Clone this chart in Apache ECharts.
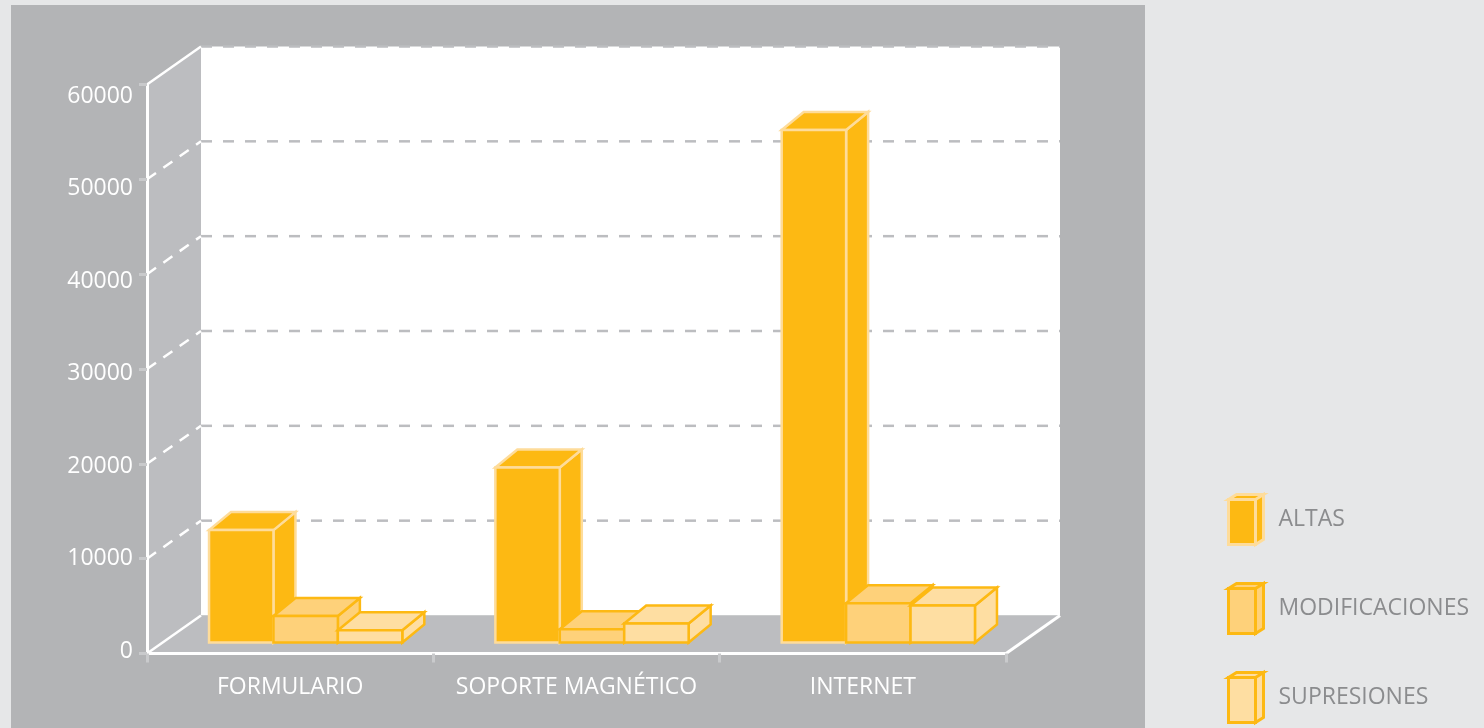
<!DOCTYPE html>
<html>
<head>
<meta charset="utf-8">
<script src="https://cdn.jsdelivr.net/npm/echarts@6/dist/echarts.min.js"></script>
<style>
  html, body { margin: 0; padding: 0; background: #e6e7e8; }
  #panel { position: absolute; left: 11px; top: 5px; width: 1134px; height: 723px; background: #b3b4b6; }
  #chart { position: absolute; left: 0; top: 0; width: 1484px; height: 728px; }
</style>
</head>
<body>
<div id="panel"></div>
<div id="chart"></div>
<script>
// ---- data ----
const categories = ['FORMULARIO', 'SOPORTE MAGNÉTICO', 'INTERNET'];
const seriesNames = ['ALTAS', 'MODIFICACIONES', 'SUPRESIONES'];
const altas = [11850, 18450, 54050];
const modificaciones = [2800, 1400, 4150];
const supresiones = [1300, 2000, 3900];
const yTicks = [0, 10000, 20000, 30000, 40000, 50000, 60000];

// ---- style ----
const FONT = 'Open Sans';
const WALL_DX = 54, WALL_DY = -38;          // depth of the chart box
const BAR_OFF_DX = 15.5, BAR_OFF_DY = -11;  // front plane of bars inside the box
const BAR_DX = 22, BAR_DY = -18;            // depth of each bar
const BAR_FRAC = 0.225;                      // bar width / category width
const fills = ['#fdb913', '#fed17a', '#fedea2'];
const strokes = ['#fedc9a', '#fdb913', '#fdb913'];
const WALL_GRAY = '#bcbdc0';

const yMin = yTicks[0], yMax = yTicks[yTicks.length - 1], yStep = yTicks[1] - yTicks[0];

function wallsRender(params, api) {
  const cs = params.coordSys;
  const L = cs.x, R = cs.x + cs.width;
  const yOf = v => api.coord([0, v])[1];
  const yT = yOf(yMax), yB = yOf(yMin);
  const ch = [];
  ch.push({ type: 'rect', shape: { x: L + WALL_DX, y: yT + WALL_DY, width: R - L, height: yB - yT }, style: { fill: '#ffffff' } });
  ch.push({ type: 'polygon', shape: { points: [[L, yT], [L + WALL_DX, yT + WALL_DY], [L + WALL_DX, yB + WALL_DY], [L, yB]] }, style: { fill: WALL_GRAY } });
  ch.push({ type: 'polygon', shape: { points: [[L, yB], [L + WALL_DX, yB + WALL_DY], [R + WALL_DX, yB + WALL_DY], [R, yB]] }, style: { fill: WALL_GRAY } });
  yTicks.forEach(v => {
    const y = yOf(v);
    if (v > yMin) {
      ch.push({ type: 'line', shape: { x1: L + WALL_DX, y1: y + WALL_DY, x2: R + WALL_DX, y2: y + WALL_DY },
        style: { stroke: WALL_GRAY, lineWidth: 2.5, lineDash: [11, 11] } });
    }
    const solid = (v === yMin || v === yMax);
    ch.push({ type: 'line', shape: { x1: L, y1: y, x2: L + WALL_DX, y2: y + WALL_DY },
      style: { stroke: '#ffffff', lineWidth: 2.5, lineDash: solid ? null : [11, 9] } });
  });
  ch.push({ type: 'line', shape: { x1: R, y1: yB, x2: R + WALL_DX, y2: yB + WALL_DY }, style: { stroke: '#ffffff', lineWidth: 3 } });
  return { type: 'group', children: ch };
}

function makeBarRender(si) {
  return function (params, api) {
    const cat = api.value(0), v = api.value(1);
    const base = api.coord([cat, 0]);
    const top = api.coord([cat, v]);
    const bw = api.size([1, 0])[0] * BAR_FRAC;
    const x0 = base[0] + BAR_OFF_DX + (si - 1) * bw - bw / 2;
    const x1 = x0 + bw;
    const yb = base[1] + BAR_OFF_DY, yt = top[1] + BAR_OFF_DY;
    const st = { fill: fills[si], stroke: strokes[si], lineWidth: 2.5, lineJoin: 'miter' };
    return {
      type: 'group',
      children: [
        { type: 'polygon', shape: { points: [[x1, yt], [x1 + BAR_DX, yt + BAR_DY], [x1 + BAR_DX, yb + BAR_DY], [x1, yb]] }, style: st },
        { type: 'polygon', shape: { points: [[x0, yt], [x0 + BAR_DX, yt + BAR_DY], [x1 + BAR_DX, yt + BAR_DY], [x1, yt]] }, style: st },
        { type: 'rect', shape: { x: x0, y: yt, width: bw, height: yb - yt }, style: st }
      ]
    };
  };
}

const seriesData = [altas, modificaciones, supresiones];
const legendIcon = 'path://M0,5 L27,5 L27,50 L0,50 Z M0,5 L8,0 L35,0 L27,5 Z M27,5 L35,0 L35,45 L27,50 Z';

const chart = echarts.init(document.getElementById('chart'), null, { renderer: 'canvas' });
chart.setOption({
  backgroundColor: 'transparent',
  animation: false,
  textStyle: { fontFamily: FONT },
  grid: [
    { left: 147, top: 84.5, width: 859, height: 569 },
    { left: 147, top: 96, width: 859, height: 555 }
  ],
  xAxis: [
    {
      type: 'category', data: categories, gridIndex: 0, z: 10,
      axisLine: { lineStyle: { color: '#ffffff', width: 3 } },
      axisTick: { show: true, length: 9, lineStyle: { color: '#c9cacc', width: 3 } },
      axisLabel: { color: '#ffffff', fontSize: 23, fontFamily: FONT, margin: 22, interval: 0 },
      splitLine: { show: false }
    },
    { type: 'category', data: categories, gridIndex: 1, show: false }
  ],
  yAxis: [
    {
      type: 'value', gridIndex: 0, min: yMin, max: yMax, interval: yStep, z: 10,
      axisLine: { show: true, lineStyle: { color: '#ffffff', width: 3 } },
      axisTick: { show: true, length: 8, lineStyle: { color: '#c9cacc', width: 3 } },
      axisLabel: { show: false },
      splitLine: { show: false }
    },
    {
      type: 'value', gridIndex: 1, min: yMin, max: yMax, interval: yStep,
      axisLine: { show: false }, axisTick: { show: false }, splitLine: { show: false },
      axisLabel: { color: '#ffffff', fontSize: 23, fontFamily: FONT, margin: 14, formatter: v => String(v) }
    }
  ],
  legend: {
    orient: 'vertical', left: 1227, top: 493, padding: 0,
    itemWidth: 35, itemHeight: 51, itemGap: 36,
    textStyle: { color: '#8b8c8e', fontSize: 23, fontFamily: FONT, padding: [0, 0, 0, 10] },
    data: seriesNames.map((n, i) => ({
      name: n, icon: legendIcon,
      itemStyle: { color: fills[i], borderColor: strokes[i], borderWidth: 3 }
    }))
  },
  series: [
    { type: 'custom', name: '_walls', xAxisIndex: 0, yAxisIndex: 0, z: 1, silent: true,
      data: [[0, 0]], renderItem: wallsRender }
  ].concat(seriesNames.map((n, si) => ({
    type: 'custom', name: n, xAxisIndex: 0, yAxisIndex: 0, z: 2,
    itemStyle: { color: fills[si], borderColor: strokes[si] },
    data: seriesData[si].map((v, ci) => [ci, v]),
    encode: { x: 0, y: 1 },
    renderItem: makeBarRender(si)
  })))
});
</script>
</body>
</html>
